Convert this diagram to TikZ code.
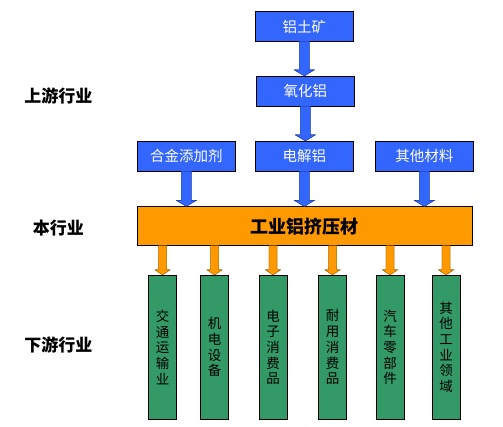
\documentclass[tikz,border=0pt]{standalone}
\usepackage{fontspec}
\newfontfamily\cjk{Noto Sans CJK SC}
\usetikzlibrary{calc}
\definecolor{bblue}{RGB}{51,102,255}
\definecolor{borange}{RGB}{255,153,0}
\definecolor{bgreen}{RGB}{51,153,102}
\tikzset{
  bluebox/.style={draw=black, line width=0.8pt, fill=bblue, text=white, minimum width=98pt, minimum height=30pt, inner sep=0pt, font=\cjk\fontsize{14.5}{16}\selectfont},
  orangebox/.style={draw=black, line width=0.8pt, fill=borange, text=black, minimum width=335pt, minimum height=39pt, inner sep=0pt, font=\cjk\bfseries\fontsize{18}{20}\selectfont},
  greenbox/.style={draw=black, line width=0.8pt, fill=bgreen, text=black, minimum width=28pt, minimum height=144pt, inner sep=0pt, align=center, font=\cjk\fontsize{13.5}{15.7}\selectfont},
  sidelabel/.style={text=black, inner sep=0pt, font=\cjk\bfseries\fontsize{17}{19}\selectfont},
  blockarrow/.style n args={3}{to path={
    let \p1=(\tikztostart), \p2=(\tikztotarget) in
    (\x1-#1,\y1) -- (\x1-#1,\y2+#3) -- (\x1-#2,\y2+#3) -- (\x1,\y2) -- (\x1+#2,\y2+#3) -- (\x1+#1,\y2+#3) -- (\x1+#1,\y1) -- cycle}},
  bluearrow/.style={fill=bblue, draw=bblue!60!black, line width=0.3pt, blockarrow={5pt}{10pt}{6pt}},
  orangearrow/.style={fill=borange, draw=borange!60!black, line width=0.3pt, blockarrow={4pt}{7.5pt}{5pt}},
  arrowshadow/.style={fill=gray!60, draw=none, xshift=1.5pt},
}
\begin{document}
\begin{tikzpicture}[x=1pt,y=-1pt]
\useasboundingbox[fill=white] (0,0) rectangle (503,427);
% upstream
\node[bluebox] (bauxite) at (304.3,26.5) {铝土矿};
\node[bluebox] (alumina) at (305.3,91.3) {氧化铝};
\node[bluebox] (alloy) at (186.3,156.3) {合金添加剂};
\node[bluebox] (electro) at (304.3,156.3) {电解铝};
\node[bluebox] (other) at (424.3,156.3) {其他材料};
% main
\node[orangebox] (main) at (304.8,226.3) {工业铝挤压材};
% downstream
\node[greenbox] (g1) at (162.5,347.3) {交\\通\\运\\输\\业};
\node[greenbox] (g2) at (214.5,347.3) {机\\电\\设\\备};
\node[greenbox] (g3) at (273,347.3) {电\\子\\消\\费\\品};
\node[greenbox] (g4) at (332.5,347.3) {耐\\用\\消\\费\\品};
\node[greenbox] (g5) at (390,347.3) {汽\\车\\零\\部\\件};
\node[greenbox] (g6) at (446,347.3) {其\\他\\工\\业\\领\\域};
% side labels
\node[sidelabel] (up) at (58.3,95.7) {上游行业};
\node[sidelabel] (mid) at (58.3,228.3) {本行业};
\node[sidelabel] (down) at (58.3,345) {下游行业};
% blue arrows
\foreach \a/\b in {bauxite/alumina, alumina/electro}{
  \path[arrowshadow, bluearrow] ([yshift=0.4pt]\a.south) to (\b.north);
  \path[bluearrow] ([yshift=0.4pt]\a.south) to (\b.north);
}
\foreach \a in {alloy, electro, other}{
  \path[arrowshadow, bluearrow] ([yshift=0.4pt]\a.south) to (\a.south |- main.north);
  \path[bluearrow] ([yshift=0.4pt]\a.south) to (\a.south |- main.north);
}
% orange arrows
\foreach \g in {g1,g2,g3,g4,g5,g6}{
  \path[arrowshadow, orangearrow] ([yshift=0.4pt]main.south -| \g.north) to (\g.north);
  \path[orangearrow] ([yshift=0.4pt]main.south -| \g.north) to (\g.north);
}
\end{tikzpicture}
\end{document}
